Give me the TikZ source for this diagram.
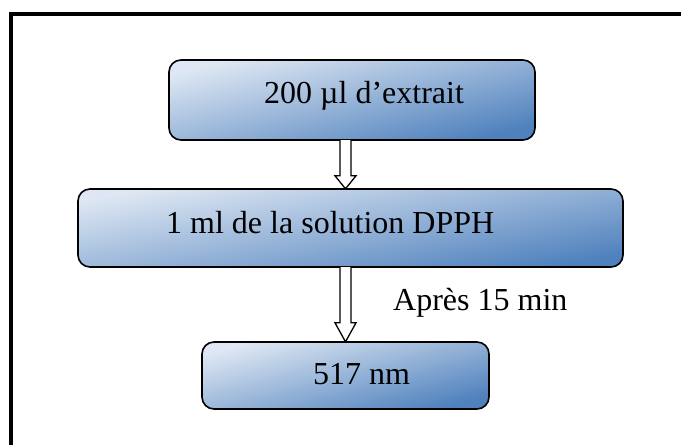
\documentclass[tikz,border=0pt]{standalone}
\usepackage{fontspec}
\setmainfont{Liberation Serif}
\usetikzlibrary{calc}
\definecolor{gLight}{RGB}{222,231,243}
\definecolor{gDark}{RGB}{79,129,189}
\tikzset{
  stepbox/.style={draw=black, line width=1.6pt, rounded corners=12pt,
    top color=gLight, bottom color=gDark, inner sep=0pt},
  label/.style={anchor=base west, inner sep=0pt, font=\fontsize{32}{38}\selectfont},
  hollowarrow/.style={draw=black, fill=white, line width=1.3pt, line join=miter}
}
\begin{document}
\begin{tikzpicture}[x=1pt,y=-1pt]
\useasboundingbox (0,0) rectangle (681,445);
% outer frame (open at right and bottom)
\draw[line width=4pt] (11,460) -- (11,13.5) -- (700,13.5);
% boxes
\path[stepbox, shading angle=14] (169,60) rectangle (535,140);
\node[inner sep=0pt, minimum width=366pt, minimum height=80pt] (b1) at (352,100) {};
\path[stepbox, shading angle=10] (78,189) rectangle (623,267);
\node[inner sep=0pt, minimum width=545pt, minimum height=78pt] (b2) at (350.5,228) {};
\path[stepbox, shading angle=15] (202,342) rectangle (489,409);
\node[inner sep=0pt, minimum width=287pt, minimum height=67pt] (b3) at (345.5,375.5) {};
% texts
\node[label] (t1) at (264,103) {200 µl d’extrait};
\node[label] (t2) at (166,233) {1 ml de la solution DPPH};
\node[label] (t3) at (313,384) {517 nm};
\node[label] (t4) at (393,310) {Après 15 min};
% hollow arrows
\coordinate (a1s) at (b1.south -| b3.north);
\coordinate (a1e) at (b2.north -| b3.north);
\draw[hollowarrow] let \p1=(a1s), \p2=(a1e) in
  (\x1-5.5,\y1) -- (\x1-5.5,\y2+13) -- (\x1-10.5,\y2+13) -- (\x1,\y2)
  -- (\x1+10.5,\y2+13) -- (\x1+5.5,\y2+13) -- (\x1+5.5,\y1);
\coordinate (a2s) at (b2.south -| b3.north);
\coordinate (a2e) at (b3.north);
\draw[hollowarrow] let \p1=(a2s), \p2=(a2e) in
  (\x1-5.5,\y1) -- (\x1-5.5,\y2+19) -- (\x1-10.5,\y2+19) -- (\x1,\y2)
  -- (\x1+10.5,\y2+19) -- (\x1+5.5,\y2+19) -- (\x1+5.5,\y1);
\end{tikzpicture}
\end{document}
